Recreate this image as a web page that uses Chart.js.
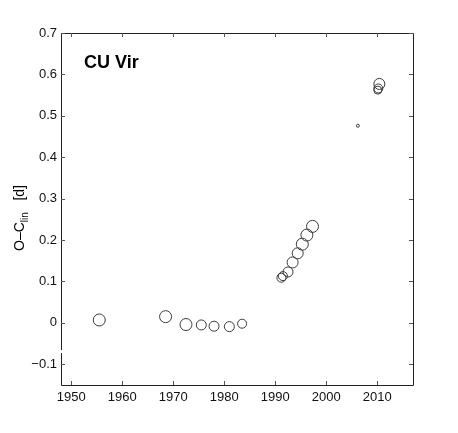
<!DOCTYPE html>
<html>
<head>
<meta charset="utf-8">
<script src="https://cdn.jsdelivr.net/npm/chart.js@4"></script>
<style>
  html, body { margin: 0; padding: 0; background: #fff; }
  #wrap { width: 458px; height: 433px; }
</style>
</head>
<body>
<div id="wrap"><canvas id="myChart" width="458" height="433"></canvas></div>
<script>
// O-C values of CU Vir
var years = [1955.5, 1968.5, 1972.5, 1975.5, 1978.0, 1981.0, 1983.5,
             1991.2, 1991.5, 1992.5, 1993.4, 1994.4, 1995.3, 1996.2, 1997.3,
             2006.2, 2010.1, 2010.2, 2010.4];
var ocValues = [0.007, 0.015, -0.004, -0.005, -0.008, -0.009, -0.002,
                0.109, 0.113, 0.123, 0.146, 0.168, 0.190, 0.212, 0.233,
                0.476, 0.562, 0.566, 0.577];
// marker size ~ weight of the point
var weights = [6, 6, 6, 5, 5, 5, 4.5,
               4.5, 4.5, 5, 5.5, 5.5, 6, 6, 6,
               1.5, 4, 4.5, 5.5];
var xTicks = [1950, 1960, 1970, 1980, 1990, 2000, 2010];
var yTicks = [-0.1, 0, 0.1, 0.2, 0.3, 0.4, 0.5, 0.6, 0.7];
var starName = 'CU Vir';

var points = years.map(function(y, i) {
    return { x: y, y: ocValues[i] };
});

var fontFamily = '"Liberation Sans", Arial, Helvetica, sans-serif';

// inward ticks on all four sides, axis break, star label, y title
var boxPlugin = {
    id: 'boxPlugin',
    afterDraw: function(chart) {
        var ctx = chart.ctx;
        var a = chart.chartArea;
        var xs = chart.scales.x, ys = chart.scales.y;
        ctx.save();
        ctx.strokeStyle = '#222';
        ctx.lineWidth = 1;
        ctx.beginPath();
        ctx.rect(Math.round(a.left) + 0.5, Math.round(a.top) + 0.5,
                 Math.round(a.right - a.left), Math.round(a.bottom - a.top));
        ctx.stroke();

        ctx.strokeStyle = '#555';
        ctx.beginPath();
        xTicks.forEach(function(v) {
            var px = Math.round(xs.getPixelForValue(v)) + 0.5;
            ctx.moveTo(px, a.bottom); ctx.lineTo(px, a.bottom - 4);
            ctx.moveTo(px, a.top); ctx.lineTo(px, a.top + 4);
        });
        yTicks.forEach(function(v) {
            var py = Math.round(ys.getPixelForValue(v)) + 0.5;
            ctx.moveTo(a.left, py); ctx.lineTo(a.left + 4, py);
            ctx.moveTo(a.right, py); ctx.lineTo(a.right - 4, py);
        });
        ctx.stroke();

        // small break in the left axis
        ctx.fillStyle = '#fff';
        ctx.fillRect(Math.round(a.left) - 1, 350, 3, 3);

        // star name
        ctx.fillStyle = '#000';
        ctx.font = 'bold 18px ' + fontFamily;
        ctx.textBaseline = 'alphabetic';
        ctx.textAlign = 'left';
        ctx.fillText(starName, 84, 68);

        // y axis title: O-C_lin [d]
        ctx.translate(24, 218);
        ctx.rotate(-Math.PI / 2);
        var t1 = 'O\u2013C', t2 = 'lin', t3 = '   [d]';
        ctx.font = '14px ' + fontFamily;
        var w1 = ctx.measureText(t1).width;
        ctx.font = '10px ' + fontFamily;
        var w2 = ctx.measureText(t2).width;
        ctx.font = '14px ' + fontFamily;
        var w3 = ctx.measureText(t3).width;
        var start = -(w1 + w2 + w3) / 2;
        ctx.fillText(t1, start, 0);
        ctx.font = '10px ' + fontFamily;
        ctx.fillText(t2, start + w1, 4);
        ctx.font = '14px ' + fontFamily;
        ctx.fillText(t3, start + w1 + w2, 0);
        ctx.restore();
    }
};

var ctx = document.getElementById('myChart').getContext('2d');
var chart = new Chart(ctx, {
    type: 'scatter',
    data: {
        datasets: [{
            label: starName,
            data: points,
            pointRadius: weights,
            pointHoverRadius: weights,
            pointBackgroundColor: 'rgba(0,0,0,0)',
            pointBorderColor: '#3a3a3a',
            pointBorderWidth: 1
        }]
    },
    options: {
        responsive: false,
        animation: false,
        layout: { padding: { top: 33, right: 45, left: 0, bottom: 0 } },
        plugins: {
            legend: { display: false },
            tooltip: { enabled: false }
        },
        scales: {
            x: {
                type: 'linear',
                min: 1948,
                max: 2017,
                grid: { display: false, drawTicks: false },
                border: { display: false },
                ticks: {
                    stepSize: 10,
                    includeBounds: false,
                    color: '#111',
                    padding: 5,
                    font: { family: fontFamily, size: 13 },
                    callback: function(v) { return String(v); }
                },
                afterFit: function(scale) { scale.height = 48; }
            },
            y: {
                type: 'linear',
                min: -0.15,
                max: 0.7,
                grid: { display: false, drawTicks: false },
                border: { display: false },
                ticks: {
                    stepSize: 0.1,
                    includeBounds: false,
                    color: '#111',
                    padding: 4,
                    font: { family: fontFamily, size: 13 },
                    callback: function(v) {
                        var r = Math.round(v * 10) / 10;
                        return r < 0 ? '\u2212' + Math.abs(r) : String(r);
                    }
                },
                afterFit: function(scale) { scale.width = 61; }
            }
        }
    },
    plugins: [boxPlugin]
});
</script>
</body>
</html>
